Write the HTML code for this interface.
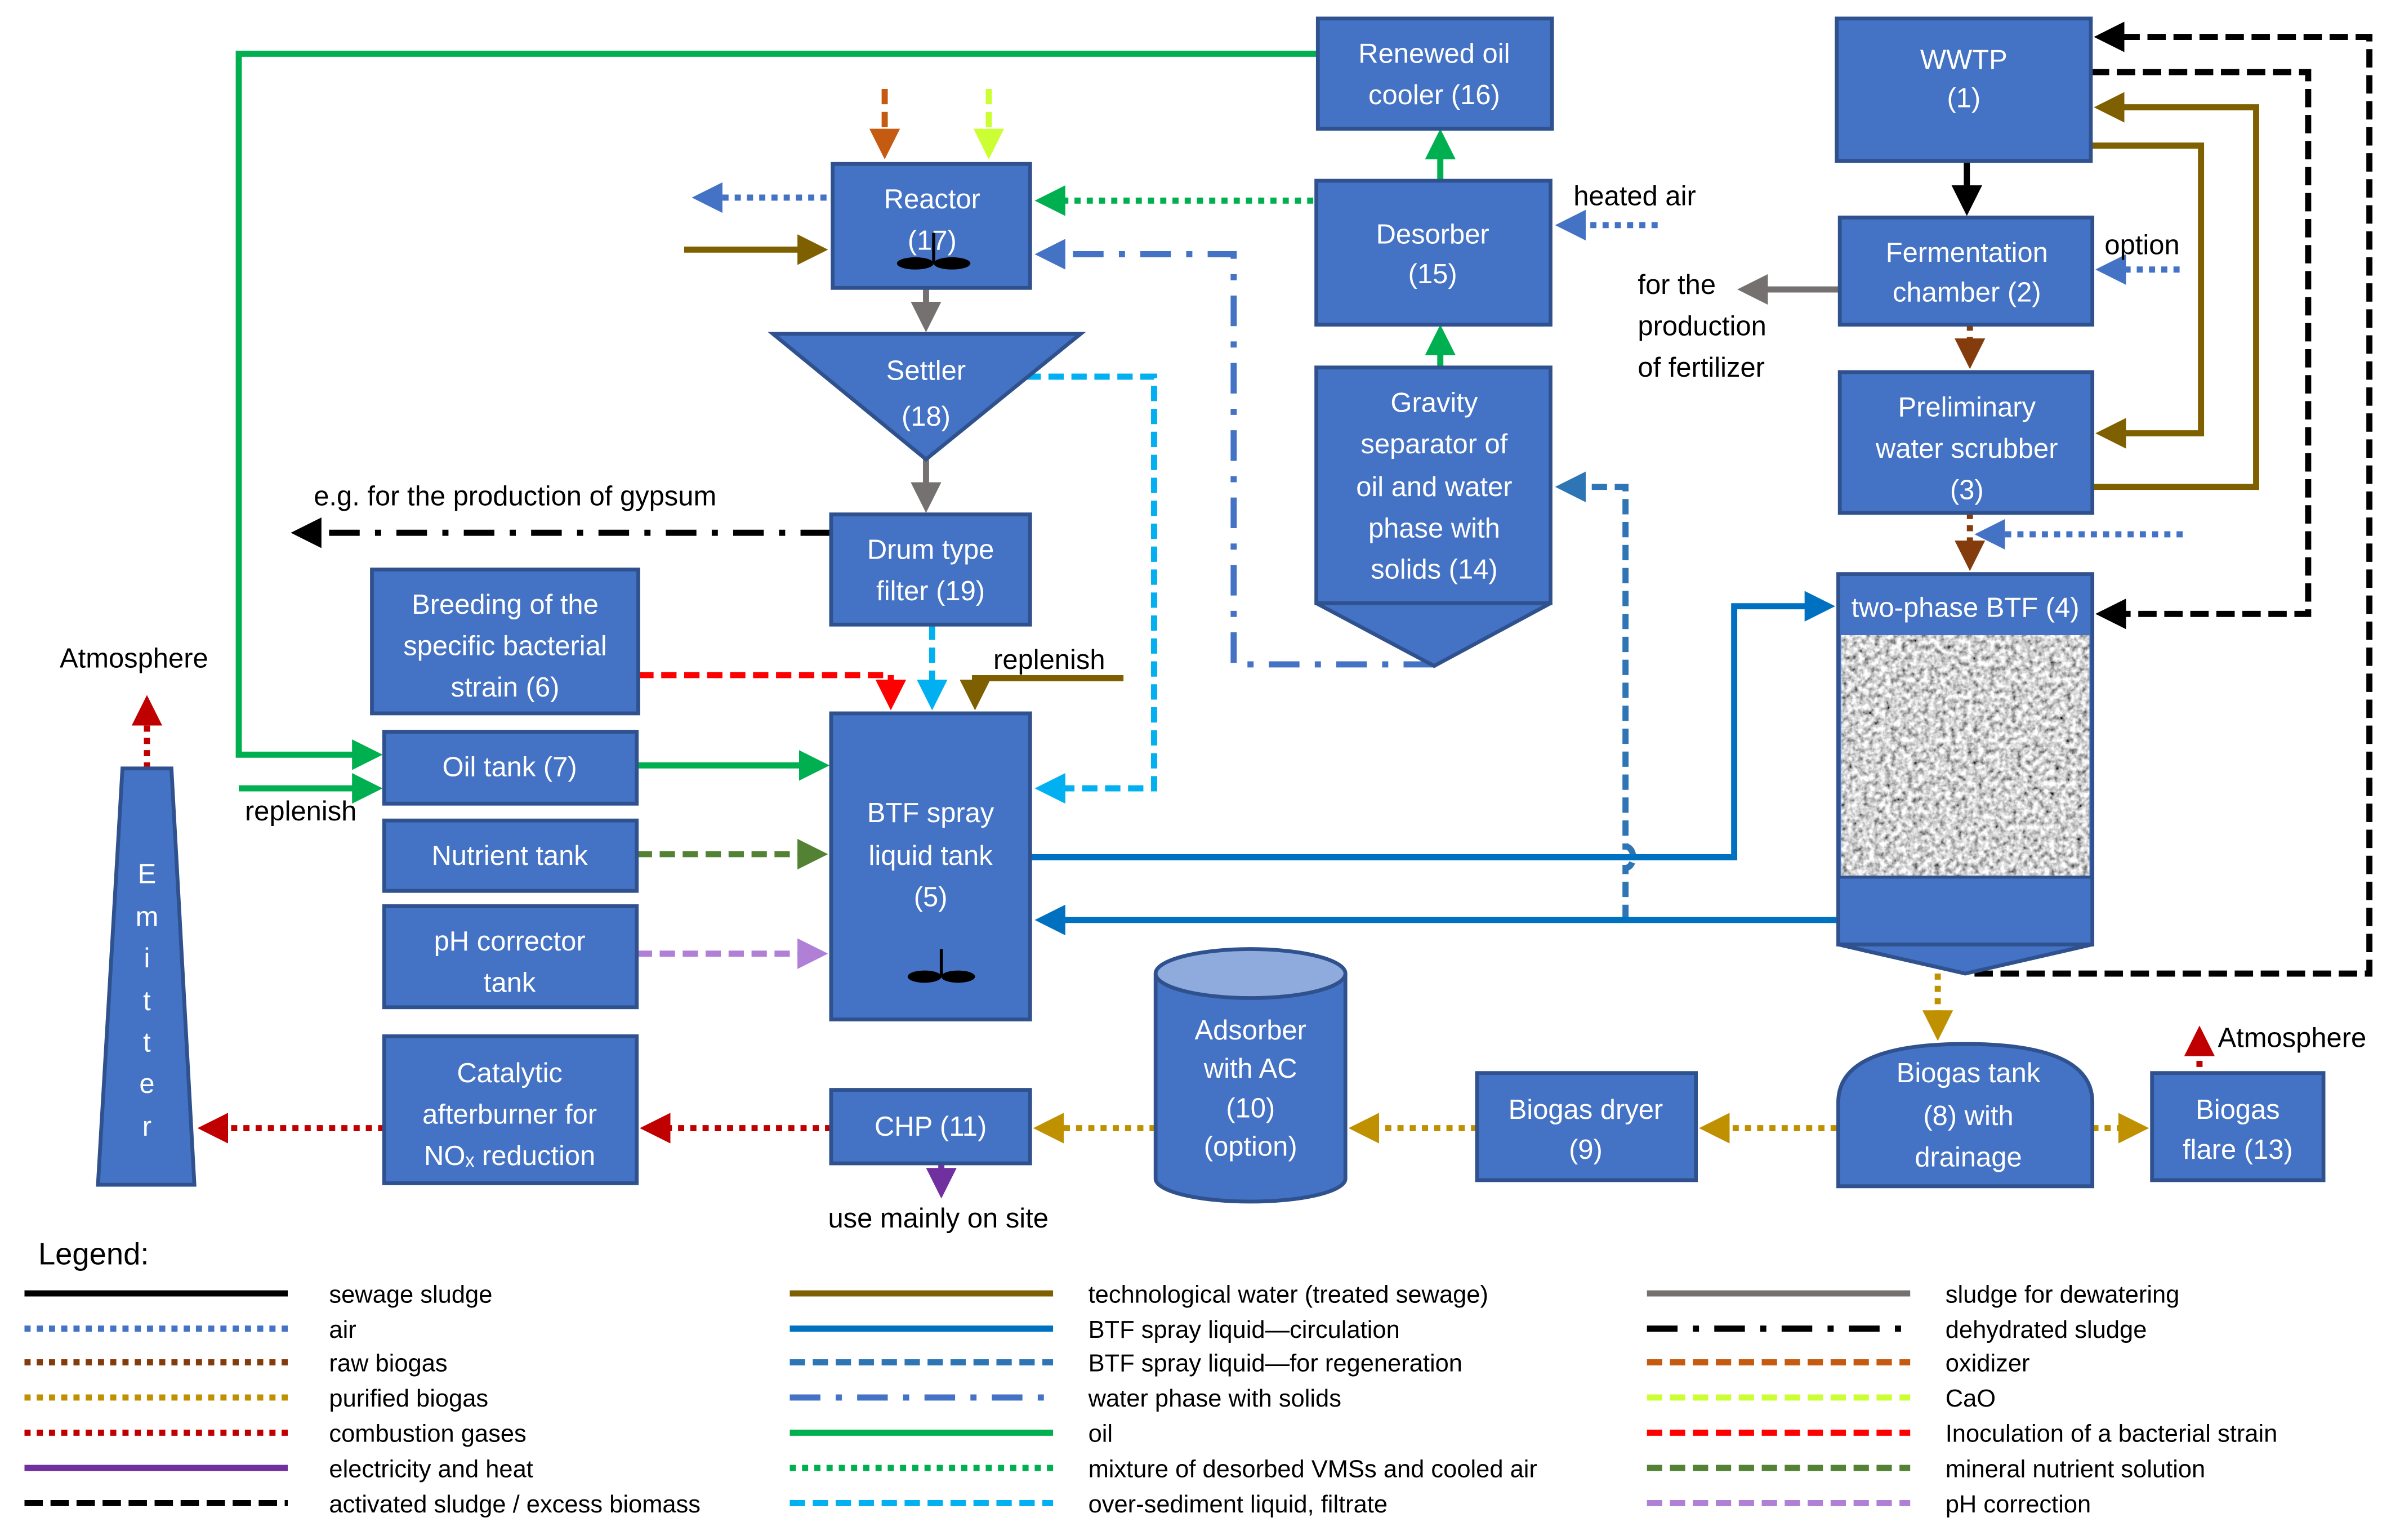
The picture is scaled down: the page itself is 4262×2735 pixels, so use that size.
<!DOCTYPE html>
<html><head><meta charset="utf-8"><style>
html,body{margin:0;padding:0;background:#fff;}
svg{display:block;}
text{font-family:"Liberation Sans",sans-serif;}
.bt{fill:#fff;font-size:18px;text-anchor:middle;}
.lt{fill:#000;font-size:18px;}
.lg{fill:#000;font-size:16px;}
.box{fill:#4472C4;stroke:#2F528F;stroke-width:2.5;}
</style></head><body>
<svg width="4262" height="2735" viewBox="0 0 1568 1006" xmlns="http://www.w3.org/2000/svg">
<defs>
<filter id="noise" x="0" y="0" width="100%" height="100%">
<feTurbulence type="fractalNoise" baseFrequency="0.28" numOctaves="3" seed="4"/>
<feColorMatrix type="matrix" values="1.7 0 0 0 -0.2  1.7 0 0 0 -0.2  1.7 0 0 0 -0.2  0 0 0 0 1"/>
</filter>
<marker id="aG" markerWidth="5" markerHeight="5" refX="4" refY="2.5" orient="auto" markerUnits="strokeWidth"><path d="M0,0L5,2.5L0,5z" fill="#00B050"/></marker>
<marker id="aGd" markerWidth="5" markerHeight="5" refX="4" refY="2.5" orient="auto" markerUnits="strokeWidth"><path d="M0,0L5,2.5L0,5z" fill="#00B050"/></marker>
<marker id="aB" markerWidth="5" markerHeight="5" refX="4" refY="2.5" orient="auto" markerUnits="strokeWidth"><path d="M0,0L5,2.5L0,5z" fill="#4472C4"/></marker>
<marker id="aC" markerWidth="5" markerHeight="5" refX="4" refY="2.5" orient="auto" markerUnits="strokeWidth"><path d="M0,0L5,2.5L0,5z" fill="#0070C0"/></marker>
<marker id="aR" markerWidth="5" markerHeight="5" refX="4" refY="2.5" orient="auto" markerUnits="strokeWidth"><path d="M0,0L5,2.5L0,5z" fill="#2E75B6"/></marker>
<marker id="aCy" markerWidth="5" markerHeight="5" refX="4" refY="2.5" orient="auto" markerUnits="strokeWidth"><path d="M0,0L5,2.5L0,5z" fill="#00B0F0"/></marker>
<marker id="aBr" markerWidth="5" markerHeight="5" refX="4" refY="2.5" orient="auto" markerUnits="strokeWidth"><path d="M0,0L5,2.5L0,5z" fill="#7F6000"/></marker>
<marker id="aRB" markerWidth="5" markerHeight="5" refX="4" refY="2.5" orient="auto" markerUnits="strokeWidth"><path d="M0,0L5,2.5L0,5z" fill="#843C0C"/></marker>
<marker id="aPB" markerWidth="5" markerHeight="5" refX="4" refY="2.5" orient="auto" markerUnits="strokeWidth"><path d="M0,0L5,2.5L0,5z" fill="#BF9000"/></marker>
<marker id="aCG" markerWidth="5" markerHeight="5" refX="4" refY="2.5" orient="auto" markerUnits="strokeWidth"><path d="M0,0L5,2.5L0,5z" fill="#C00000"/></marker>
<marker id="aK" markerWidth="5" markerHeight="5" refX="4" refY="2.5" orient="auto" markerUnits="strokeWidth"><path d="M0,0L5,2.5L0,5z" fill="#000"/></marker>
<marker id="aGr" markerWidth="5" markerHeight="5" refX="4" refY="2.5" orient="auto" markerUnits="strokeWidth"><path d="M0,0L5,2.5L0,5z" fill="#767171"/></marker>
<marker id="aO" markerWidth="5" markerHeight="5" refX="4" refY="2.5" orient="auto" markerUnits="strokeWidth"><path d="M0,0L5,2.5L0,5z" fill="#C55A11"/></marker>
<marker id="aY" markerWidth="5" markerHeight="5" refX="4" refY="2.5" orient="auto" markerUnits="strokeWidth"><path d="M0,0L5,2.5L0,5z" fill="#CCFF33"/></marker>
<marker id="aRe" markerWidth="5" markerHeight="5" refX="4" refY="2.5" orient="auto" markerUnits="strokeWidth"><path d="M0,0L5,2.5L0,5z" fill="#FF0000"/></marker>
<marker id="aN" markerWidth="5" markerHeight="5" refX="4" refY="2.5" orient="auto" markerUnits="strokeWidth"><path d="M0,0L5,2.5L0,5z" fill="#548235"/></marker>
<marker id="aP" markerWidth="5" markerHeight="5" refX="4" refY="2.5" orient="auto" markerUnits="strokeWidth"><path d="M0,0L5,2.5L0,5z" fill="#B07FD6"/></marker>
<marker id="aV" markerWidth="5" markerHeight="5" refX="4" refY="2.5" orient="auto" markerUnits="strokeWidth"><path d="M0,0L5,2.5L0,5z" fill="#7030A0"/></marker>
</defs>

<g fill="none" stroke-width="4">
<path d="M861,35H156V493H246" stroke="#00B050" marker-end="url(#aG)"/>
<path d="M156,515H246" stroke="#00B050" marker-end="url(#aG)"/>
<path d="M416,500H538" stroke="#00B050" marker-end="url(#aG)"/>
<path d="M941,118V88" stroke="#00B050" marker-end="url(#aG)"/>
<path d="M941,240V216" stroke="#00B050" marker-end="url(#aG)"/>
<path d="M858,131H680" stroke="#00B050" stroke-dasharray="4,4" marker-end="url(#aGd)"/>
<path d="M540,129H456" stroke="#4472C4" stroke-dasharray="4,4" marker-end="url(#aB)"/>
<path d="M1083,147H1020" stroke="#4472C4" stroke-dasharray="4,4" marker-end="url(#aB)"/>
<path d="M1424,176H1373" stroke="#4472C4" stroke-dasharray="4,4" marker-end="url(#aB)"/>
<path d="M1426,349H1294" stroke="#4472C4" stroke-dasharray="4,4" marker-end="url(#aB)"/>
<path d="M578,58V100" stroke="#C55A11" stroke-dasharray="10,5" marker-end="url(#aO)"/>
<path d="M646,58V100" stroke="#CCFF33" stroke-dasharray="10,5" marker-end="url(#aY)"/>
<path d="M447,163H537" stroke="#7F6000" marker-end="url(#aBr)"/>
<path d="M1366,95H1438V283H1373" stroke="#7F6000" marker-end="url(#aBr)"/>
<path d="M1367,318H1474V70H1372" stroke="#7F6000" marker-end="url(#aBr)"/>
<path d="M734,443H637V460" stroke="#7F6000" marker-end="url(#aBr)"/>
<path d="M937,434H806V166H680" stroke="#4472C4" stroke-dasharray="20,10,4,10" marker-end="url(#aB)"/>
<path d="M1062,601V567a5,7 0 0,0 0,-14V318H1020" stroke="#2E75B6" stroke-dasharray="10,5" marker-end="url(#aR)"/>
<path d="M673,560H1133V396H1195" stroke="#0070C0" marker-end="url(#aC)"/>
<path d="M1201,601H680" stroke="#0070C0" marker-end="url(#aC)"/>
<path d="M670,246H754V515H680" stroke="#00B0F0" stroke-dasharray="10,5" marker-end="url(#aCy)"/>
<path d="M609,408V460" stroke="#00B0F0" stroke-dasharray="10,5" marker-end="url(#aCy)"/>
<path d="M417,441H582V460" stroke="#FF0000" stroke-dasharray="10,5" marker-end="url(#aRe)"/>
<path d="M416,558H537" stroke="#548235" stroke-dasharray="10,5" marker-end="url(#aN)"/>
<path d="M416,623H537" stroke="#B07FD6" stroke-dasharray="10,5" marker-end="url(#aP)"/>
<path d="M605,188V213" stroke="#767171" marker-end="url(#aGr)"/>
<path d="M605,300V331" stroke="#767171" marker-end="url(#aGr)"/>
<path d="M1202,189H1139" stroke="#767171" marker-end="url(#aGr)"/>
<path d="M1285,105V137" stroke="#000" marker-end="url(#aK)"/>
<path d="M543,348H194" stroke="#000" stroke-dasharray="20,10,4,10" marker-end="url(#aK)"/>
<path d="M1290,636H1548V24H1372" stroke="#000" stroke-dasharray="12,5" marker-end="url(#aK)"/>
<path d="M1366,47H1508V401H1373" stroke="#000" stroke-dasharray="12,5" marker-end="url(#aK)"/>
<path d="M1287,212V237" stroke="#843C0C" stroke-dasharray="4,4" marker-end="url(#aRB)"/>
<path d="M1287,335V369" stroke="#843C0C" stroke-dasharray="4,4" marker-end="url(#aRB)"/>
<path d="M1266,580V676" stroke="#BF9000" stroke-dasharray="4,4" marker-end="url(#aPB)"/>
<path d="M1200,737H1114" stroke="#BF9000" stroke-dasharray="4,4" marker-end="url(#aPB)"/>
<path d="M965,737H885" stroke="#BF9000" stroke-dasharray="4,4" marker-end="url(#aPB)"/>
<path d="M755,737H679" stroke="#BF9000" stroke-dasharray="4,4" marker-end="url(#aPB)"/>
<path d="M1367,737H1400" stroke="#BF9000" stroke-dasharray="4,4" marker-end="url(#aPB)"/>
<path d="M543,737H422" stroke="#C00000" stroke-dasharray="4,4" marker-end="url(#aCG)"/>
<path d="M251,737H133" stroke="#C00000" stroke-dasharray="4,4" marker-end="url(#aCG)"/>
<path d="M96,502V458" stroke="#C00000" stroke-dasharray="4,4" marker-end="url(#aCG)"/>
<path d="M1437,697V674" stroke="#C00000" stroke-dasharray="4,4" marker-end="url(#aCG)"/>
<path d="M615,760V779" stroke="#7030A0" marker-end="url(#aV)"/>
</g>

<rect class="box" x="861" y="12" width="153" height="72"/>
<text class="bt" x="937" y="41">Renewed oil</text><text class="bt" x="937" y="68">cooler (16)</text>
<rect class="box" x="1200" y="12" width="166" height="93"/>
<text class="bt" x="1283" y="45">WWTP</text><text class="bt" x="1283" y="70">(1)</text>
<rect class="box" x="544" y="107" width="129" height="81"/>
<text class="bt" x="609" y="136">Reactor</text><text class="bt" x="609" y="163">(17)</text>
<path d="M610,152V172" stroke="#000" stroke-width="2"/><ellipse cx="598" cy="172" rx="12" ry="4" fill="#000"/><ellipse cx="622" cy="172" rx="12" ry="4" fill="#000"/>
<rect class="box" x="860" y="118" width="153" height="94"/>
<text class="bt" x="936" y="159">Desorber</text><text class="bt" x="936" y="185">(15)</text>
<rect class="box" x="1202" y="142" width="165" height="70"/>
<text class="bt" x="1285" y="171">Fermentation</text><text class="bt" x="1285" y="197">chamber (2)</text>
<polygon class="box" points="505,218 706,218 605,300"/>
<text class="bt" x="605" y="248">Settler</text><text class="bt" x="605" y="278">(18)</text>
<rect class="box" x="860" y="240" width="153" height="154"/>
<polygon class="box" points="860,394 1013,394 937,435"/>
<text class="bt" x="937" y="269">Gravity</text><text class="bt" x="937" y="296">separator of</text><text class="bt" x="937" y="324">oil and water</text><text class="bt" x="937" y="351">phase with</text><text class="bt" x="937" y="378">solids (14)</text>
<rect class="box" x="1202" y="243" width="165" height="92"/>
<text class="bt" x="1285" y="272">Preliminary</text><text class="bt" x="1285" y="299">water scrubber</text><text class="bt" x="1285" y="326">(3)</text>
<rect class="box" x="543" y="336" width="130" height="72"/>
<text class="bt" x="608" y="365">Drum type</text><text class="bt" x="608" y="392">filter (19)</text>
<rect class="box" x="243" y="372" width="174" height="94"/>
<text class="bt" x="330" y="401">Breeding of the</text><text class="bt" x="330" y="428">specific bacterial</text><text class="bt" x="330" y="455">strain (6)</text>
<rect class="box" x="1201" y="375" width="166" height="242"/>
<rect x="1203" y="415" width="162" height="158" filter="url(#noise)"/>
<line x1="1201" y1="573" x2="1367" y2="573" stroke="#2F528F" stroke-width="2"/>
<polygon class="box" points="1201,617 1367,617 1284,636"/>
<text class="bt" x="1284" y="403">two-phase BTF (4)</text>
<rect class="box" x="251" y="478" width="165" height="47"/>
<text class="bt" x="333" y="507">Oil tank (7)</text>
<rect class="box" x="543" y="466" width="130" height="200"/>
<text class="bt" x="608" y="537">BTF spray</text><text class="bt" x="608" y="565">liquid tank</text><text class="bt" x="608" y="592">(5)</text>
<path d="M615,620V638" stroke="#000" stroke-width="2"/><ellipse cx="604" cy="638" rx="11" ry="4" fill="#000"/><ellipse cx="626" cy="638" rx="11" ry="4" fill="#000"/>
<rect class="box" x="251" y="536" width="165" height="46"/>
<text class="bt" x="333" y="565">Nutrient tank</text>
<rect class="box" x="251" y="592" width="165" height="66"/>
<text class="bt" x="333" y="621">pH corrector</text><text class="bt" x="333" y="648">tank</text>
<polygon class="box" points="80,502 112,502 127,774 64,774"/>
<g class="bt"><text x="96" y="577">E</text><text x="96" y="605">m</text><text x="96" y="632">i</text><text x="96" y="660">t</text><text x="96" y="687">t</text><text x="96" y="714">e</text><text x="96" y="742">r</text></g>
<rect class="box" x="251" y="677" width="165" height="96"/>
<text class="bt" x="333" y="707">Catalytic</text><text class="bt" x="333" y="734">afterburner for</text><text class="bt" x="333" y="761">NOₓ reduction</text>
<rect class="box" x="543" y="712" width="130" height="48"/>
<text class="bt" x="608" y="742">CHP (11)</text>
<path class="box" d="M755,636V770A62,15 0 0,0 879,770V636"/>
<ellipse cx="817" cy="636" rx="62" ry="16" fill="#8FAADC" stroke="#2F528F" stroke-width="2.5"/>
<text class="bt" x="817" y="679">Adsorber</text><text class="bt" x="817" y="704">with AC</text><text class="bt" x="817" y="730">(10)</text><text class="bt" x="817" y="755">(option)</text>
<rect class="box" x="965" y="701" width="143" height="70"/>
<text class="bt" x="1036" y="731">Biogas dryer</text><text class="bt" x="1036" y="757">(9)</text>
<path class="box" d="M1201,775V720Q1201,682 1284,682Q1367,682 1367,720V775Z"/>
<text class="bt" x="1286" y="707">Biogas tank</text><text class="bt" x="1286" y="735">(8) with</text><text class="bt" x="1286" y="762">drainage</text>
<rect class="box" x="1406" y="701" width="112" height="70"/>
<text class="bt" x="1462" y="731">Biogas</text><text class="bt" x="1462" y="757">flare (13)</text>

<text class="lt" x="39" y="436">Atmosphere</text>
<text class="lt" x="160" y="536">replenish</text>
<text class="lt" x="205" y="330">e.g. for the production of gypsum</text>
<text class="lt" x="1028" y="134">heated air</text>
<text class="lt" x="1375" y="166">option</text>
<text class="lt" x="1070" y="192">for the</text><text class="lt" x="1070" y="219">production</text><text class="lt" x="1070" y="246">of fertilizer</text>
<text class="lt" x="649" y="437">replenish</text>
<text class="lt" x="541" y="802">use mainly on site</text>
<text class="lt" x="1449" y="684">Atmosphere</text>

<text class="lt" x="25" y="826" style="font-size:20px">Legend:</text>
<g fill="none" stroke-width="4">
<path d="M16,845H188" stroke="#000"/>
<path d="M16,868H188" stroke="#4472C4" stroke-dasharray="4,4"/>
<path d="M16,890H188" stroke="#843C0C" stroke-dasharray="4,4"/>
<path d="M16,913H188" stroke="#BF9000" stroke-dasharray="4,4"/>
<path d="M16,936H188" stroke="#C00000" stroke-dasharray="4,4"/>
<path d="M16,959H188" stroke="#7030A0"/>
<path d="M16,982H188" stroke="#000" stroke-dasharray="12,5"/>
<path d="M516,845H688" stroke="#7F6000"/>
<path d="M516,868H688" stroke="#0070C0"/>
<path d="M516,890H688" stroke="#2E75B6" stroke-dasharray="10,5"/>
<path d="M516,913H688" stroke="#4472C4" stroke-dasharray="20,10,4,10"/>
<path d="M516,936H688" stroke="#00B050"/>
<path d="M516,959H688" stroke="#00B050" stroke-dasharray="4,4"/>
<path d="M516,982H688" stroke="#00B0F0" stroke-dasharray="10,5"/>
<path d="M1076,845H1248" stroke="#767171"/>
<path d="M1076,868H1248" stroke="#000" stroke-dasharray="20,10,4,10"/>
<path d="M1076,890H1248" stroke="#C55A11" stroke-dasharray="10,5"/>
<path d="M1076,913H1248" stroke="#CCFF33" stroke-dasharray="10,5"/>
<path d="M1076,936H1248" stroke="#FF0000" stroke-dasharray="10,5"/>
<path d="M1076,959H1248" stroke="#548235" stroke-dasharray="10,5"/>
<path d="M1076,982H1248" stroke="#B07FD6" stroke-dasharray="10,5"/>
</g>
<g class="lg">
<text x="215" y="851">sewage sludge</text><text x="215" y="874">air</text><text x="215" y="896">raw biogas</text><text x="215" y="919">purified biogas</text><text x="215" y="942">combustion gases</text><text x="215" y="965">electricity and heat</text><text x="215" y="988">activated sludge / excess biomass</text>
<text x="711" y="851">technological water (treated sewage)</text><text x="711" y="874">BTF spray liquid—circulation</text><text x="711" y="896">BTF spray liquid—for regeneration</text><text x="711" y="919">water phase with solids</text><text x="711" y="942">oil</text><text x="711" y="965">mixture of desorbed VMSs and cooled air</text><text x="711" y="988">over-sediment liquid, filtrate</text>
<text x="1271" y="851">sludge for dewatering</text><text x="1271" y="874">dehydrated sludge</text><text x="1271" y="896">oxidizer</text><text x="1271" y="919">CaO</text><text x="1271" y="942">Inoculation of a bacterial strain</text><text x="1271" y="965">mineral nutrient solution</text><text x="1271" y="988">pH correction</text>
</g>
</svg>
</body></html>
